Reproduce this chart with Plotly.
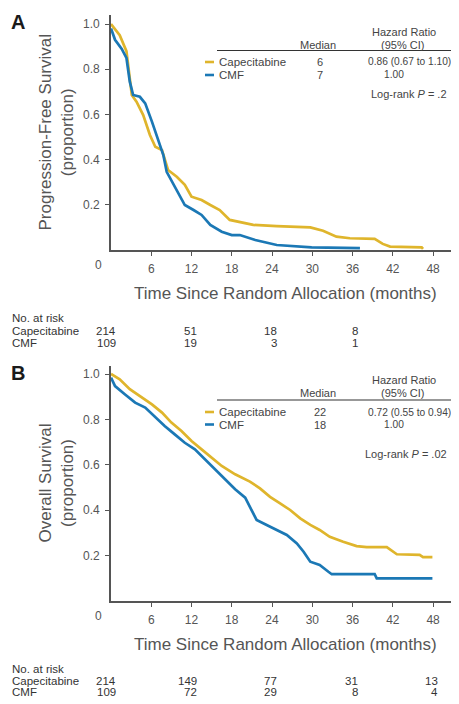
import plotly.graph_objects as go

# The page body has an 8px margin, so the figure is drawn 8px smaller and
# every layout position below is given in window pixels minus that offset.
OFF = 8
W, H = 459 - OFF, 704 - OFF

# ---------------- data ----------------
months_ticks = [6, 12, 18, 24, 30, 36, 42, 48]
prop_ticks = [0.2, 0.4, 0.6, 0.8, 1.0]
prop_labels = ["0.2", "0.4", "0.6", "0.8", "1.0"]

# Panel A: progression-free survival
pfs_t_cap = [0, 1.3, 2.3, 2.8, 3.1, 3.8, 4.8, 5.8, 6.6, 7.6, 8.5, 9.8, 11.0, 12.0, 13.5, 14.8,
             16.2, 17.7, 19.2, 21.2, 24.7, 29.7, 31.6, 33.6, 35.6, 39.3, 40.5, 41.6, 46.3, 46.5]
pfs_s_cap = [1.0, 0.95, 0.88, 0.745, 0.686, 0.656, 0.597, 0.509, 0.457, 0.442, 0.354, 0.324, 0.288,
             0.236, 0.221, 0.199, 0.177, 0.133, 0.125, 0.111, 0.106, 0.100, 0.085, 0.059, 0.052,
             0.049, 0.027, 0.015, 0.012, 0.005]
pfs_t_cmf = [0, 0.6, 1.6, 2.3, 2.8, 3.3, 4.3, 5.1, 6.1, 7.0, 7.8, 8.3, 9.5, 11.0, 12.3, 13.5, 14.8,
             16.5, 18.0, 19.2, 21.5, 24.7, 29.9, 37.1]
pfs_s_cmf = [0.98, 0.93, 0.89, 0.85, 0.745, 0.686, 0.678, 0.649, 0.568, 0.494, 0.420, 0.346, 0.280,
             0.199, 0.177, 0.155, 0.111, 0.081, 0.066, 0.066, 0.044, 0.022, 0.012, 0.008]

# Panel B: overall survival
os_t_cap = [0, 1.3, 2.8, 4.6, 6.1, 7.6, 9.0, 10.5, 12.0, 13.5, 15.0, 16.5, 18.5, 20.7, 22.2, 23.7,
            25.2, 26.7, 28.2, 29.7, 31.1, 32.6, 34.6, 36.6, 38.1, 41.1, 42.6, 46.0, 46.5, 47.9]
os_s_cap = [1.0, 0.977, 0.933, 0.896, 0.866, 0.830, 0.786, 0.749, 0.705, 0.668, 0.631, 0.595, 0.558,
            0.526, 0.496, 0.459, 0.430, 0.401, 0.364, 0.335, 0.313, 0.283, 0.261, 0.242, 0.237,
            0.237, 0.206, 0.203, 0.193, 0.193]
os_t_cmf = [0, 0.6, 2.1, 3.6, 5.1, 6.6, 8.0, 9.5, 11.0, 12.5, 14.0, 15.5, 17.0, 18.5, 20.0, 20.7,
            21.7, 23.2, 24.7, 26.2, 27.7, 28.7, 29.7, 31.1, 32.4, 32.9, 39.3, 39.6, 47.9]
os_s_cmf = [0.984, 0.947, 0.910, 0.874, 0.852, 0.808, 0.771, 0.734, 0.697, 0.668, 0.624, 0.580,
            0.536, 0.492, 0.455, 0.415, 0.357, 0.335, 0.313, 0.291, 0.254, 0.217, 0.173, 0.159,
            0.129, 0.118, 0.118, 0.100, 0.100]

risk_times_a = [0, 12, 24, 36]
risk_cap_a = [214, 51, 18, 8]
risk_cmf_a = [109, 19, 3, 1]
risk_times_b = [0, 12, 24, 36, 48]
risk_cap_b = [214, 149, 77, 31, 13]
risk_cmf_b = [109, 72, 29, 8, 4]

arms = ["Capecitabine", "CMF"]
medians_a = ["6", "7"]
hr_a = ["0.86 (0.67 to 1.10)", "1.00"]
medians_b = ["22", "18"]
hr_b = ["0.72 (0.55 to 0.94)", "1.00"]

# ---------------- styling ----------------
YEL = "#DFB52C"
BLU = "#1B78B5"
AX = "#555555"
TXT = "#444444"
SMALL = "Liberation Sans, Arial, sans-serif"
TITLE = "Liberation Sans, Arial, sans-serif"


def fx(x):
    return (x - OFF) / W


def fy(y):
    return 1 - (y - OFF) / H


fig = go.Figure()
fig.add_trace(go.Scatter(x=pfs_t_cap, y=pfs_s_cap, mode="lines", line=dict(color=YEL, width=2.7),
                         xaxis="x", yaxis="y", name="Capecitabine"))
fig.add_trace(go.Scatter(x=pfs_t_cmf, y=pfs_s_cmf, mode="lines", line=dict(color=BLU, width=2.7),
                         xaxis="x", yaxis="y", name="CMF"))
fig.add_trace(go.Scatter(x=os_t_cap, y=os_s_cap, mode="lines", line=dict(color=YEL, width=2.7),
                         xaxis="x2", yaxis="y2", name="Capecitabine"))
fig.add_trace(go.Scatter(x=os_t_cmf, y=os_s_cmf, mode="lines", line=dict(color=BLU, width=2.7),
                         xaxis="x2", yaxis="y2", name="CMF"))

xdom = [fx(111), fx(456)]
xrng = [0, (456 - 111) / 6.71]
ax_common = dict(showline=True, linecolor=AX, linewidth=1.6, ticks="outside", ticklen=4,
                 tickwidth=1.4, tickcolor=AX, showgrid=False, zeroline=False,
                 tickfont=dict(family=SMALL, size=12, color="#555555"))

fig.update_layout(
    width=W, height=H, margin=dict(l=0, r=0, t=0, b=0),
    paper_bgcolor="white", plot_bgcolor="white", showlegend=False,
    xaxis=dict(domain=xdom, range=xrng, tickvals=months_ticks, anchor="y", ticklabelstandoff=3, **ax_common),
    yaxis=dict(domain=[fy(250), fy(15)], range=[0, (250 - 15) / 226], tickvals=prop_ticks,
               ticktext=prop_labels, anchor="x", ticklabelstandoff=3, **ax_common),
    xaxis2=dict(domain=xdom, range=xrng, tickvals=months_ticks, anchor="y2", ticklabelstandoff=3, **ax_common),
    yaxis2=dict(domain=[fy(601), fy(366)], range=[0, (601 - 366) / 227], tickvals=prop_ticks,
                ticktext=prop_labels, anchor="x2", ticklabelstandoff=3, **ax_common),
)

ann = []
shapes = []


def text(x, y, s, size=12, color=TXT, family=SMALL, xanchor="center", **kw):
    ann.append(dict(x=fx(x), y=fy(y), xref="paper", yref="paper", text=s, showarrow=False,
                    xanchor=xanchor, yanchor="middle", font=dict(size=size, color=color, family=family), **kw))


def panel(letter, top, bottom, ytitle, legend_y, medians, hrs, logrank, lr_y, xaxis, risk_y, rt, rc, rm):
    text(18, top + 7, "<b>%s</b>" % letter, size=20, color="#1a1a1a")
    text(98, bottom + 15, "0", size=12, color="#555555")
    ann.append(dict(x=fx(56), y=fy((top + bottom) / 2), xref="paper", yref="paper", text=ytitle,
                    showarrow=False, textangle=-90, xanchor="center", yanchor="middle",
                    font=dict(size=17, color="#555555", family=TITLE)))
    text(285, bottom + 43, "Time Since Random Allocation (months)", size=17, color="#555555", family=TITLE)
    hy, cy, ly, r1, r2 = legend_y
    text(404, hy, "Hazard Ratio", size=11)
    text(402, cy, "(95% CI)", size=11)
    text(318, cy, "Median", size=11)
    shapes.append(dict(type="line", xref="paper", yref="paper", x0=fx(217), x1=fx(452), y0=fy(ly), y1=fy(ly),
                       line=dict(color="#333333", width=1.2)))
    for ry, col, arm, med, hr in zip([r1, r2], [YEL, BLU], arms, medians, hrs):
        shapes.append(dict(type="line", xref="paper", yref="paper", x0=fx(205), x1=fx(214), y0=fy(ry), y1=fy(ry),
                           line=dict(color=col, width=2.6)))
        text(217, ry, arm, size=11.5, xanchor="left")
        text(320, ry, med, size=11)
        text(409 if hr != "1.00" else 394, ry, hr, size=10.2)
    text(449, lr_y, logrank, size=11, xanchor="right")
    ny, cy2, my = risk_y
    text(10, ny, "No. at risk", size=11.5, color="#333333", xanchor="left")
    text(10, cy2, "Capecitabine", size=11.5, color="#333333", xanchor="left")
    text(10, my, "CMF", size=11.5, color="#333333", xanchor="left")
    for t, a, b in zip(rt, rc, rm):
        for yy, v in [(cy2, a), (my, b)]:
            ann.append(dict(x=t, y=fy(yy), xref=xaxis, yref="paper", text=str(v), showarrow=False,
                            xanchor="right", yanchor="middle", xshift=7,
                            font=dict(size=11.5, color="#333333", family=SMALL)))


panel("A", 15, 250, "Progression-Free Survival<br>(proportion)", (32, 45, 50.5, 62, 75),
      medians_a, hr_a, "Log-rank <i>P</i> = .2", 94, "x", (318, 331, 343),
      risk_times_a, risk_cap_a, risk_cmf_a)
panel("B", 366, 601, "Overall Survival<br>(proportion)", (380, 393, 400, 412, 424.5),
      medians_b, hr_b, "Log-rank <i>P</i> = .02", 454, "x2", (669, 681, 692),
      risk_times_b, risk_cap_b, risk_cmf_b)

fig.update_layout(annotations=ann, shapes=shapes)
fig.write_html("out.html")
